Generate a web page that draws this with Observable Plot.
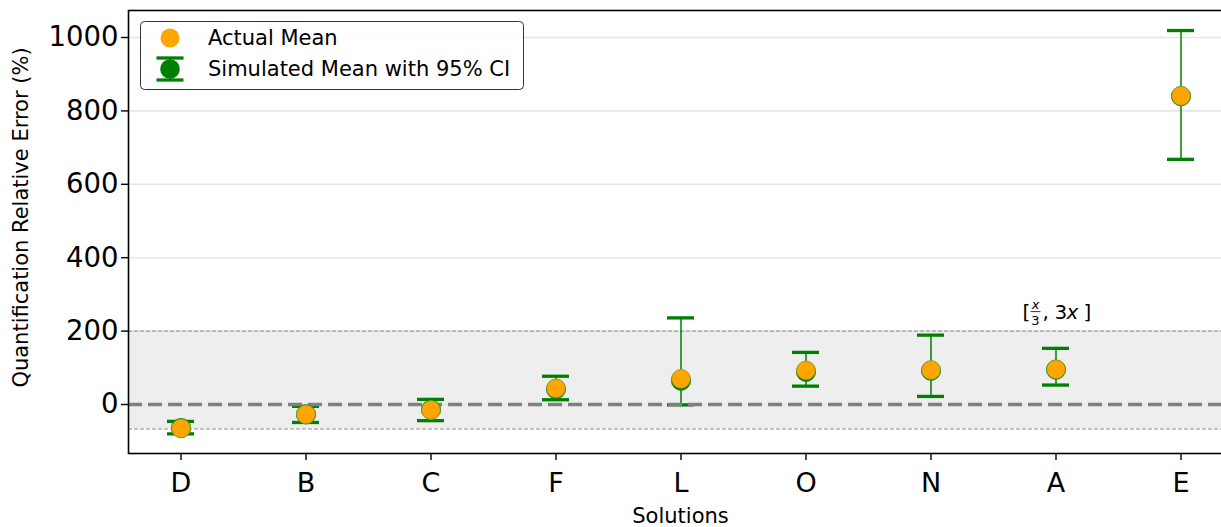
<!DOCTYPE html>
<html>
<head>
<meta charset="utf-8">
<script src="https://cdn.jsdelivr.net/npm/d3@7"></script>
<script src="https://cdn.jsdelivr.net/npm/@observablehq/plot@0.6"></script>
<style>
  html, body { margin: 0; padding: 0; background: #ffffff; }
  #chart svg { display: block; }
</style>
</head>
<body>
<div id="chart"></div>
<script>
// Solutions, ordered by their mean quantification relative error
const categories = ["D", "B", "C", "F", "L", "O", "N", "A", "E"];
// Observed mean relative error (%)
const actualMean = [-65, -27, -15, 44, 70, 93, 94, 96, 841];
// Simulated mean relative error (%) and its 95% confidence interval
const simulatedMean = [-64, -27, -14, 42, 65, 89, 92, 95, 840];
const ciLower = [-80, -49, -44, 13, -1, 50, 22, 53, 668];
const ciUpper = [-46, -5, 14, 77, 236, 142, 189, 153, 1019];
// Axis ticks and the acceptable band [x/3, 3x] expressed as relative error
const yTicks = [0, 200, 400, 600, 800, 1000];
const bandLimits = [-200 / 3, 200];

const rows = categories.map((solution, i) => ({
  solution,
  actual: actualMean[i],
  simulated: simulatedMean[i],
  lo: ciLower[i],
  hi: ciUpper[i]
}));

const FONT = "DejaVu Sans, Liberation Sans, sans-serif";

const plot = Plot.plot({
  width: 1221,
  height: 527,
  marginLeft: 128,
  marginRight: -12,
  marginTop: 10,
  marginBottom: 74,
  style: { fontFamily: FONT, background: "white", color: "black", overflow: "hidden" },
  x: {
    type: "band",
    domain: categories,
    paddingInner: 0.785,
    paddingOuter: 0.2985,
    align: 0.5,
    label: null
  },
  y: { domain: [-133.5, 1073.6], label: null },
  marks: [
    // shaded acceptance band
    Plot.rect([{ lo: bandLimits[0], hi: bandLimits[1] }], { y1: "lo", y2: "hi", fill: "#eeeeee" }),
    Plot.gridY(yTicks, { stroke: "#e6e6e6", strokeOpacity: 1, strokeWidth: 1.6 }),
    Plot.ruleY(bandLimits, { stroke: "#8a8a8a", strokeWidth: 1, strokeDasharray: "4,2" }),
    // 95% confidence intervals with caps
    Plot.ruleX(rows, { x: "solution", y1: "lo", y2: "hi", stroke: "green", strokeWidth: 1.5 }),
    Plot.tickY(rows, { x: "solution", y: "lo", stroke: "green", strokeWidth: 3.3 }),
    Plot.tickY(rows, { x: "solution", y: "hi", stroke: "green", strokeWidth: 3.3 }),
    // zero-error reference
    Plot.ruleY([0], { stroke: "#808080", strokeWidth: 3.3, strokeDasharray: "14,6" }),
    // simulated and actual means
    Plot.dot(rows, { x: "solution", y: "simulated", r: 9.6, fill: "green", stroke: "green", strokeWidth: 0.8 }),
    Plot.dot(rows, { x: "solution", y: "actual", r: 9.4, fill: "orange", stroke: "#7a9a2a", strokeWidth: 0.8 }),
    Plot.axisY(yTicks, { tickSize: 7, tickPadding: 3, fontSize: 27.5, strokeWidth: 1.4, tickFormat: d3.format("d"), label: null }),
    Plot.axisX({ tickSize: 7, tickPadding: 12, fontSize: 27, strokeWidth: 1.4, label: null }),
    Plot.frame({ stroke: "black", strokeWidth: 1.6 })
  ]
});

document.getElementById("chart").appendChild(plot);

const svg = d3.select(plot);
const xs = plot.scale("x");
const ys = plot.scale("y");
const cx = (c) => xs.apply(c) + xs.bandwidth / 2;

// axis titles
svg.append("text")
  .attr("transform", `translate(21, ${(ys.apply(1073.6) + ys.apply(-133.5)) / 2 - 14}) rotate(-90)`)
  .attr("text-anchor", "middle").attr("dominant-baseline", "central")
  .attr("font-family", FONT).attr("font-size", 21).attr("fill", "black")
  .text("Quantification Relative Error (%)");

svg.append("text")
  .attr("x", (cx(categories[0]) + cx(categories[categories.length - 1])) / 2)
  .attr("y", 523)
  .attr("text-anchor", "middle")
  .attr("font-family", FONT).attr("font-size", 21).attr("fill", "black")
  .text("Solutions");

// band annotation [x/3, 3x] above the upper limit
{
  const ax = cx("A");
  const base = ys.apply(bandLimits[1]) - 12;
  const g = svg.append("g").attr("font-family", FONT).attr("fill", "black").attr("text-anchor", "start");
  g.append("text").attr("x", ax - 33).attr("y", base).attr("font-size", 20).text("[");
  g.append("text").attr("x", ax - 20).attr("y", base - 10).attr("text-anchor", "middle")
    .attr("font-size", 13).attr("font-style", "italic").text("x");
  g.append("line").attr("x1", ax - 25).attr("x2", ax - 15).attr("y1", base - 7).attr("y2", base - 7)
    .attr("stroke", "black").attr("stroke-width", 0.8);
  g.append("text").attr("x", ax - 20).attr("y", base + 6).attr("text-anchor", "middle")
    .attr("font-size", 13).text("3");
  g.append("text").attr("x", ax - 13).attr("y", base).attr("font-size", 20).text(",");
  g.append("text").attr("x", ax - 1).attr("y", base).attr("font-size", 20).text("3");
  g.append("text").attr("x", ax + 11).attr("y", base).attr("font-size", 20).attr("font-style", "italic").text("x");
  g.append("text").attr("x", ax + 28).attr("y", base).attr("font-size", 20).text("]");
}

// legend
{
  const g = svg.append("g").attr("font-family", FONT).attr("text-anchor", "start");
  g.append("rect").attr("x", 140.5).attr("y", 21.5).attr("width", 383).attr("height", 68)
    .attr("rx", 4).attr("fill", "white").attr("fill-opacity", 0.85)
    .attr("stroke", "#333333").attr("stroke-width", 1);
  g.append("circle").attr("cx", 170).attr("cy", 38).attr("r", 9.5).attr("fill", "orange");
  g.append("text").attr("x", 208).attr("y", 38).attr("dominant-baseline", "central")
    .attr("font-size", 21).attr("fill", "black").text("Actual Mean");
  g.append("line").attr("x1", 170).attr("x2", 170).attr("y1", 58).attr("y2", 80)
    .attr("stroke", "green").attr("stroke-width", 1.5);
  g.append("line").attr("x1", 156.5).attr("x2", 183.5).attr("y1", 58).attr("y2", 58)
    .attr("stroke", "green").attr("stroke-width", 3.3);
  g.append("line").attr("x1", 156.5).attr("x2", 183.5).attr("y1", 80).attr("y2", 80)
    .attr("stroke", "green").attr("stroke-width", 3.3);
  g.append("circle").attr("cx", 170).attr("cy", 69).attr("r", 9.8).attr("fill", "green");
  g.append("text").attr("x", 208).attr("y", 69).attr("dominant-baseline", "central")
    .attr("font-size", 21).attr("fill", "black").text("Simulated Mean with 95% CI");
}
</script>
</body>
</html>
